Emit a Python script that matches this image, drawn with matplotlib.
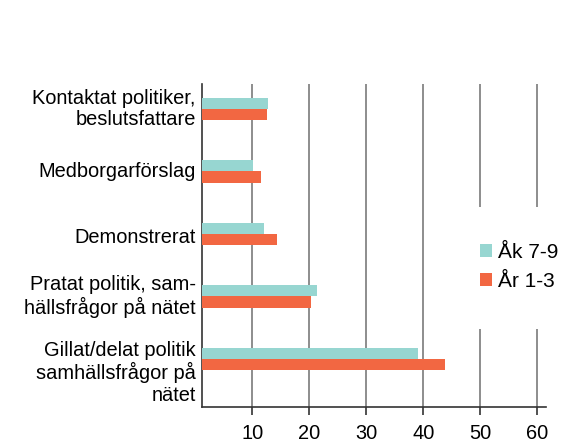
import matplotlib.pyplot as plt
from matplotlib.patches import Rectangle
import numpy as np

plt.rcParams['font.family'] = ['Liberation Sans', 'DejaVu Sans']

categories = ['Kontaktat politiker,\nbeslutsfattare', 'Medborgarförslag', 'Demonstrerat',
              'Pratat politik, sam-\nhällsfrågor på nätet',
              'Gillat/delat politik\nsamhällsfrågor på\nnätet']
ak79 = [12.7, 10.1, 12.0, 21.4, 39.1]
ar13 = [12.5, 11.5, 14.3, 20.2, 43.8]
series_names = ['Åk 7-9', 'År 1-3']
xticks = [10, 20, 30, 40, 50, 60]

teal = '#97d6d1'
orange = '#f26742'

W, H = 561, 446
fig = plt.figure(figsize=(W / 100, H / 100), dpi=100)
ax = fig.add_axes([201.7 / W, 1 - 407 / H, (546 - 201.7) / W, (407 - 84) / H])

y = np.arange(len(categories))
h = 0.18
ax.barh(y - h / 2, ak79, height=h, color=teal, label=series_names[0], zorder=3)
ax.barh(y + h / 2, ar13, height=h, color=orange, label=series_names[1], zorder=3)

ax.set_xlim(1.1, 61.5)
ax.set_ylim(4.77, -0.4)
ax.set_xticks(xticks)
ax.set_yticks([])
ax.tick_params(axis='x', length=6, width=1.2, labelsize=14.4, pad=6, color='#333333')
ax.xaxis.grid(True, color='#7a7a7a', linewidth=1.2, zorder=0)
for s in ['top', 'right']:
    ax.spines[s].set_visible(False)
for s in ['left', 'bottom']:
    ax.spines[s].set_color('#333333')
    ax.spines[s].set_linewidth(1.2)

offsets = [0, 0, 0.05, 0, 0.22]
for i, lab in enumerate(categories):
    ax.text(-0.017, y[i] + offsets[i], lab, transform=ax.get_yaxis_transform(),
            ha='right', va='center', fontsize=14.4, linespacing=1.15)

# white area behind the legend hides the gridlines there
ax.add_patch(Rectangle((470 / W, 1 - 329 / H), 90 / W, 122 / H, transform=fig.transFigure,
                       facecolor='white', edgecolor='none', zorder=4, clip_on=False))

leg = ax.legend(loc='center left', bbox_to_anchor=(476 / W, 1 - 267 / H),
                bbox_transform=fig.transFigure, fontsize=15, frameon=False,
                handlelength=0.58, handleheight=0.58, handletextpad=0.3,
                borderpad=0.2, borderaxespad=0, labelspacing=0.5)
leg.set_zorder(5)

fig.savefig('out.png', dpi=100)
